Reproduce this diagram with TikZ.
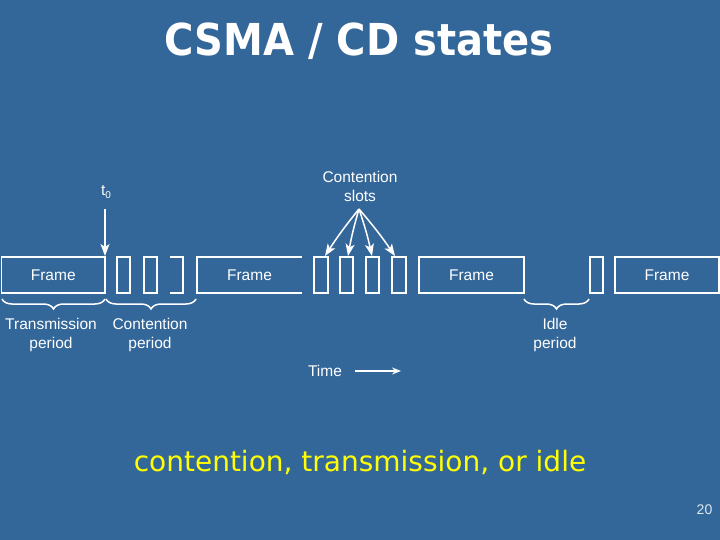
\documentclass[tikz,border=0pt]{standalone}
\usepackage{fontspec}
\setmainfont{Liberation Sans}
\newfontfamily\titlefont{DejaVu Sans}
\usetikzlibrary{arrows.meta,decorations.pathreplacing}
\definecolor{bgblue}{RGB}{52,103,153}
\definecolor{capyellow}{RGB}{255,255,0}
\definecolor{numc}{RGB}{220,232,242}
\tikzset{
  lbl/.style={text=white,font=\fontsize{15.5}{19}\selectfont,align=center,inner sep=0pt},
  frm/.style={draw=white,line width=1.8pt,minimum height=36pt,inner sep=0pt,outer sep=0pt,text=white,font=\fontsize{15.5}{19}\selectfont},
  slot/.style={frm,minimum width=13pt},
  wline/.style={draw=white,line width=1.8pt},
  warrow/.style={wline,line width=1.5pt,-{Stealth[length=12pt,width=9pt,inset=3pt]}},
  brc/.style={wline,line width=1.5pt,decorate,decoration={brace,amplitude=10pt}},
}
\begin{document}
\begin{tikzpicture}[x=1pt,y=-1pt]
\fill[bgblue] (0,0) rectangle (720,540);
\useasboundingbox (0,0) rectangle (720,540);
% title
\node[text=white,font=\titlefont\bfseries\fontsize{44}{50}\selectfont] (title) at (359,41) {\scalebox{0.91}[1]{CSMA / CD states}};
% frames and slots
\node[frm,minimum width=103.5pt] (f1) at (53.25,275) {Frame};
\node[slot] (c1) at (123.5,275) {};
\node[slot] (c2) at (150.5,275) {};
\node[slot,draw=none] (c3) at (176.5,275) {};
\draw[wline] (c3.north west) -- (c3.north east) -- (c3.south east) -- (c3.south west);
\node[frm,draw=none,minimum width=105pt] (f2) at (249.5,275) {Frame};
\draw[wline] (f2.north east) -- (f2.north west) -- (f2.south west) -- (f2.south east);
\node[slot,minimum width=14pt] (s1) at (321,275) {};
\node[slot] (s2) at (346.5,275) {};
\node[slot] (s3) at (372.5,275) {};
\node[slot,minimum width=14pt] (s4) at (399,275) {};
\node[frm,minimum width=105pt] (f3) at (471.5,275) {Frame};
\node[slot] (s5) at (596.5,275) {};
\node[frm,minimum width=104pt] (f4) at (667,275) {Frame};
% t0 arrow
\node[lbl] (t0) at (106,192) {t\raisebox{-0.4ex}{\fontsize{10}{10}\selectfont 0}};
\path (f1.north east) ++(0,-48) coordinate (t0s);
\draw[warrow] (t0s) -- ([yshift=1pt]f1.north east);
% contention slots
\node[lbl] (cs) at (360,186) {Contention\\slots};
\coordinate (csorig) at (359,209);
\draw[warrow] (csorig) to[bend right=3] ([xshift=4pt,yshift=1pt]s1.north);
\draw[warrow] (csorig) to[bend right=3] ([xshift=1.5pt,yshift=1pt]s2.north);
\draw[warrow] (csorig) to[bend left=3] ([xshift=-0.5pt,yshift=1pt]s3.north);
\draw[warrow] (csorig) to[bend left=3] ([xshift=-4pt,yshift=1pt]s4.north);
% braces
\coordinate (b1a) at (2,299);
\coordinate (b1b) at (105,299);
\coordinate (b2a) at (106,299);
\coordinate (b2b) at (196,299);
\coordinate (b3a) at (524,299);
\coordinate (b3b) at (589,299);
\draw[brc] (b1b) -- (b1a);
\draw[brc] (b2b) -- (b2a);
\draw[brc] (b3b) -- (b3a);
\node[lbl] (tp) at (51,334.5) {Transmission\\period};
\node[lbl] (cp) at (150,334.5) {Contention\\period};
\node[lbl] (ip) at (555,334.5) {Idle\\period};
% time
\node[lbl] (time) at (325,371) {Time};
\coordinate (tms) at (355,371);
\coordinate (tme) at (401,371);
\draw[wline,line width=1.2pt,-{Stealth[length=9pt,width=7pt,inset=3pt]}] (tms) -- (tme);
% caption
\node[text=capyellow,font=\titlefont\fontsize{28}{34}\selectfont] (cap) at (360,462) {contention, transmission, or idle};
\node[text=numc,font=\fontsize{14}{16}\selectfont] (num) at (704.5,510) {20};
\end{tikzpicture}
\end{document}
